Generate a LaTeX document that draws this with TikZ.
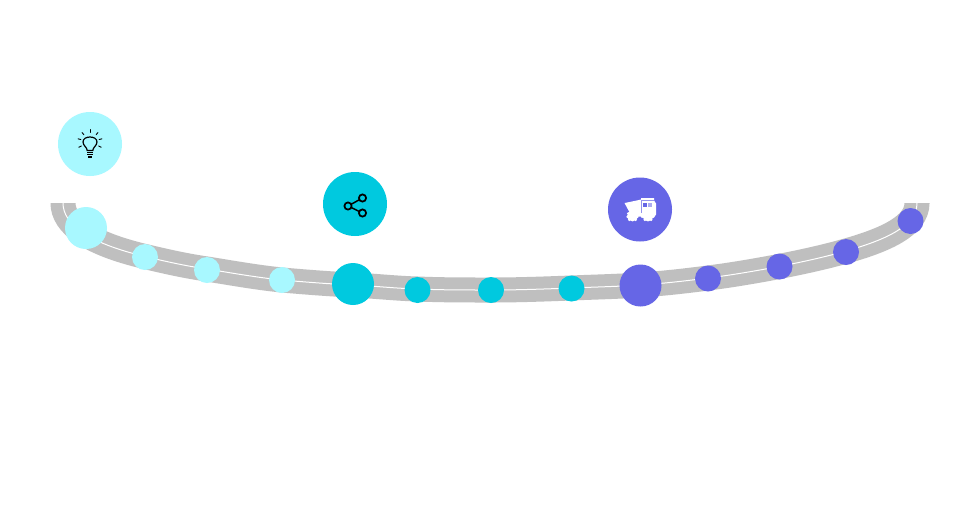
\documentclass[tikz,border=0pt]{standalone}
\definecolor{lightc}{HTML}{A8F8FF}
\definecolor{midc}{HTML}{00C9DF}
\definecolor{darkc}{HTML}{6666E6}
\definecolor{bandc}{HTML}{BFBFBF}
\tikzset{
 dotn/.style={circle,inner sep=0pt,minimum size=#1},
 ico/.style={draw=black,line width=.7pt,fill=none,line cap=round},
}
\newcommand{\trackpath}{(63,190) -- (63,203) .. controls (63,224) and (88,243) .. (145,256.5)
 .. controls (166,261.5) and (186,266) .. (207,269)
 .. controls (232,273) and (257,277.5) .. (282,280)
 .. controls (305,282) and (330,284) .. (353,285)
 .. controls (375,286) and (397,288.5) .. (418,289)
 .. controls (442,290) and (466,290) .. (491,290)
 .. controls (518,290) and (545,289) .. (571,288)
 .. controls (595,287) and (618,286.5) .. (640,285)
 .. controls (663,283.5) and (685,281) .. (708,278)
 .. controls (732,275) and (755,271) .. (779,266.5)
 .. controls (802,262) and (825,257) .. (846,251)
 .. controls (885,240) and (917,226) .. (917,203) -- (917,190)}
\begin{document}
\begin{tikzpicture}[x=0.75pt,y=-0.75pt]
\useasboundingbox (0,0) rectangle (980,519);
\fill[white] (0,0) rectangle (980,519);
\begin{scope}
 \clip (0,203) rectangle (980,519);
 \draw[bandc,line width=18.75pt] \trackpath;
 \draw[white,line width=.75pt] \trackpath;
\end{scope}
\foreach \n/\x/\y/\s/\c in {
 a0/86/228/31.5pt/lightc,a1/145/257/19.5pt/lightc,a2/207/270/19.5pt/lightc,a3/282/280/19.5pt/lightc,
 b0/353/284/31.5pt/midc,b1/417.5/290/19.5pt/midc,b2/491/290/19.5pt/midc,b3/571.5/288.5/19.5pt/midc,
 c0/640.5/285.5/31.5pt/darkc,c1/708/278.5/19.5pt/darkc,c2/779.5/266.5/19.5pt/darkc,c3/846/252/19.5pt/darkc,c4/910.5/221/19.5pt/darkc}
 {\node[dotn=\s,fill=\c] (\n) at (\x,\y) {};}
\node[dotn=48pt,fill=lightc] (bulb) at (90,144) {};
\node[dotn=48pt,fill=midc] (share) at (355,204) {};
\node[dotn=48pt,fill=darkc] (truck) at (640,209.5) {};
% bulb icon
\begin{scope}[shift={(bulb.center)}]
 \draw[ico,line width=.9pt] (-2.8,6.5) .. controls (-2.8,3.5) and (-7,1.5) .. (-7,-2) .. controls (-7,-5.5) and (-3.5,-7) .. (0,-7)
   .. controls (3.5,-7) and (7,-5.5) .. (7,-2) .. controls (7,1.5) and (2.8,3.5) .. (2.8,6.5) -- cycle;
 \fill[black] (-3.4,7.8) rectangle (3.4,9.2);
 \fill[black] (-3.4,10) rectangle (3.4,11.4);
 \fill[black] (-2.4,12.2) rectangle (2.4,14);
 \foreach \a/\dx/\dy in {90/0/-2,50/0/-2,130/0/-2,15/0/-2,165/0/-2,-25/0/-2,205/0/-2}
   \draw[ico] (\dx,\dy) ++(-\a:9.5) -- ++(-\a:2.8);
\end{scope}
% share icon
\begin{scope}[shift={(share.center)}]
 \coordinate (s1) at (7.5,-6);
 \coordinate (s2) at (7.5,9);
 \coordinate (s3) at (-7,2);
 \draw[black,line width=1.1pt] (s1) -- (s3) -- (s2);
 \foreach \p in {s1,s2,s3}
  \draw[black,line width=1.3pt,fill=midc] (\p) circle (3.6);
\end{scope}
% truck icon
\begin{scope}[shift={(truck.center)}]
 \fill[white] (-15.5,-6.5) .. controls (-8,-8) and (-3,-9) .. (1,-10) -- (1,7) -- (-8,7)
   .. controls (-11,2) and (-13,-2) .. (-15.5,-6.5) -- cycle;
 \fill[white] (1,-11.5) -- (14,-11.5) -- (14,-9) -- (16,-6) -- (16,5) -- (14,8) -- (1,8) -- cycle;
 \fill[darkc] (3,-7) rectangle (7,-3);
 \fill[darkc!55!white] (8,-7) rectangle (12,-3);
 \draw[darkc!70!white,line width=.4pt] (1.5,-9.5) -- (13.5,-9.5);
 \draw[darkc!70!white,line width=.4pt] (1,-9.5) -- (1,3);
 \foreach \w in {-7.5,8}{
  \fill[white] (\w,6.5) circle (5.4);
  \foreach \a in {-150,-110,-70,-30,10,170,50,130}
   \fill[white] (\w,6.5) ++(-\a-180:5) circle (1.4);}
\end{scope}
\end{tikzpicture}
\end{document}
